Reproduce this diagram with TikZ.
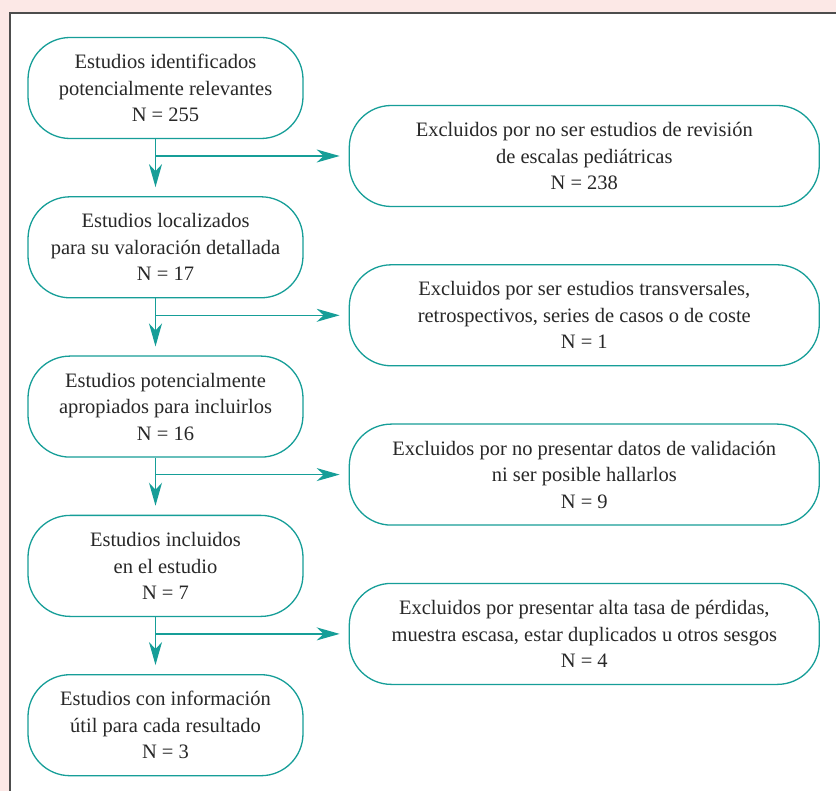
\documentclass[tikz,border=0pt]{standalone}
\usepackage{fontspec}
\setmainfont{Liberation Serif}
\usetikzlibrary{arrows.meta, positioning}
\definecolor{verdeazul}{RGB}{22,158,152}
\definecolor{textogris}{RGB}{40,40,40}
\definecolor{rosa}{RGB}{252,232,230}
\definecolor{borde}{RGB}{77,77,77}

\begin{document}
\begin{tikzpicture}[x=1pt,y=1pt,thick,node distance=57pt]
		\tikzstyle{caja}=[draw=verdeazul,line width=1.3pt,rounded corners=42pt,fill=white,text=textogris,align=center,font=\fontsize{20.5}{26.5}\selectfont,minimum height=101pt]
		\tikzstyle{paso}=[caja,minimum width=275pt]
		\tikzstyle{excluido}=[caja,minimum width=470pt]
		\tikzstyle{flecha}=[draw=verdeazul,line width=1.3pt,shorten >=9pt,-{Stealth[length=23pt,width=13pt,inset=7pt]}]
		
		% fondo y marco
		\fill[rosa] (0,0) rectangle (836,-791);
		\useasboundingbox (0,0) rectangle (836,-791);
		\fill[white] (10,-13) rectangle (836,-791);
		\draw[borde,line width=1.4pt] (10,-791) -- (10,-13) -- (836,-13);
		
		\node[paso] (L1) at (165.5,-88) {Estudios identificados\\potencialmente relevantes\\N = 255};
		\node[paso] (L2) [below=of L1] {Estudios localizados\\para su valoración detallada\\N = 17};
		\node[paso] (L3) [below=of L2] {Estudios potencialmente\\apropiados para incluirlos\\N = 16};
		\node[paso] (L4) [below=of L3] {Estudios incluidos\\en el estudio\\N = 7};
		\node[paso] (L5) [below=of L4] {Estudios con información\\útil para cada resultado\\N = 3};
		
		\node[excluido] (R1) [right=45pt of L1, yshift=-68pt] {Excluidos por no ser estudios de revisión\\de escalas pediátricas\\N = 238};
		\node[excluido] (R2) [right=45pt of L2, yshift=-68pt] {Excluidos por ser estudios transversales,\\retrospectivos, series de casos o de coste\\N = 1};
		\node[excluido] (R3) [right=45pt of L3, yshift=-68pt] {Excluidos por no presentar datos de validación\\ni ser posible hallarlos\\N = 9};
		\node[excluido] (R4) [right=45pt of L4, yshift=-68pt] {Excluidos por presentar alta tasa de pérdidas,\\muestra escasa, estar duplicados u otros sesgos\\N = 4};
		
		% flechas
		\draw[flecha] ([xshift=-10pt]L1.south) -- ([xshift=-10pt]L2.north);
		\draw[flecha] ([xshift=-10pt]L1.south |- R1.west) -- (R1.west);
		\draw[flecha] ([xshift=-10pt]L2.south) -- ([xshift=-10pt]L3.north);
		\draw[flecha] ([xshift=-10pt]L2.south |- R2.west) -- (R2.west);
		\draw[flecha] ([xshift=-10pt]L3.south) -- ([xshift=-10pt]L4.north);
		\draw[flecha] ([xshift=-10pt]L3.south |- R3.west) -- (R3.west);
		\draw[flecha] ([xshift=-10pt]L4.south) -- ([xshift=-10pt]L5.north);
		\draw[flecha] ([xshift=-10pt]L4.south |- R4.west) -- (R4.west);
	
	\end{tikzpicture}
\end{document}
